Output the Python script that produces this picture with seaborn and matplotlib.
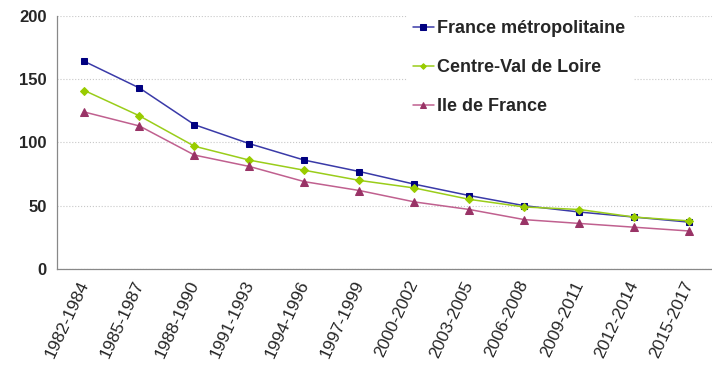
import matplotlib
matplotlib.use("Agg")
import matplotlib.pyplot as plt
import pandas as pd
import seaborn as sns

# Données
periodes = ["1982-1984", "1985-1987", "1988-1990", "1991-1993", "1994-1996", "1997-1999",
            "2000-2002", "2003-2005", "2006-2008", "2009-2011", "2012-2014", "2015-2017"]
france_metro = [164, 143, 114, 99, 86, 77, 67, 58, 50, 45, 41, 37]
centre_val_loire = [141, 121, 97, 86, 78, 70, 64, 55, 49, 47, 41, 38]
ile_de_france = [124, 113, 90, 81, 69, 62, 53, 47, 39, 36, 33, 30]

series = {
    "France métropolitaine": france_metro,
    "Centre-Val de Loire": centre_val_loire,
    "Ile de France": ile_de_france,
}
df = pd.concat(
    [pd.DataFrame({"x": range(len(periodes)), "valeur": v, "serie": k}) for k, v in series.items()],
    ignore_index=True,
)

sns.set_theme(style="white")
plt.rcParams["font.family"] = ["Liberation Sans", "DejaVu Sans"]

palette = {"France métropolitaine": "#3a3aa8", "Centre-Val de Loire": "#9acd1a", "Ile de France": "#c0608f"}
marqueurs = {"France métropolitaine": "s", "Centre-Val de Loire": "D", "Ile de France": "^"}
couleurs_marqueurs = {"France métropolitaine": "#000080", "Centre-Val de Loire": "#99cc00", "Ile de France": "#993366"}
tailles = {"France métropolitaine": 4.8, "Centre-Val de Loire": 3.6, "Ile de France": 5.2}

fig = plt.figure(figsize=(7.12, 3.69), dpi=100)
ax = fig.add_axes([0.080, 0.271, 0.927, 0.686])

for nom in series:
    sub = df[df["serie"] == nom]
    sns.lineplot(data=sub, x="x", y="valeur", ax=ax, color=palette[nom], lw=1.1,
                 marker=marqueurs[nom], markersize=tailles[nom],
                 markerfacecolor=couleurs_marqueurs[nom], markeredgecolor=couleurs_marqueurs[nom],
                 label=nom)

ax.set_xlim(-0.5, len(periodes) - 0.5)
ax.set_ylim(0, 200)
ax.set_yticks([0, 50, 100, 150, 200])
ax.yaxis.grid(True, color="#c8c8c8", linestyle=":", linewidth=0.8)
ax.xaxis.grid(False)

ax.set_xticks([i - 0.5 for i in range(len(periodes) + 1)])
ax.set_xticklabels([])
ax.set_xticks(range(len(periodes)), minor=True)
ax.set_xticklabels(periodes, minor=True, rotation=65, ha="right", va="center",
                   rotation_mode="anchor", fontsize=12.5)
ax.tick_params(axis="x", which="minor", length=0, pad=9)
ax.tick_params(axis="x", which="major", length=4, color="#888888", direction="out")
ax.tick_params(axis="y", length=4, color="#888888", direction="out", labelsize=12)
for lab in ax.get_yticklabels():
    lab.set_fontweight("bold")

for s in ["top", "right"]:
    ax.spines[s].set_visible(False)
for s in ["left", "bottom"]:
    ax.spines[s].set_color("#888888")
    ax.spines[s].set_linewidth(0.9)

ax.set_xlabel("")
ax.set_ylabel("")

leg = ax.legend(loc="upper left", bbox_to_anchor=(0.516, 1.045), frameon=True, fancybox=False,
                edgecolor="white", facecolor="white", framealpha=1,
                prop={"weight": "bold", "size": 13}, handlelength=1.15, handletextpad=0.2,
                labelspacing=1.22, borderpad=0.35, markerscale=0.8)

plt.savefig("out.png", dpi=100)
